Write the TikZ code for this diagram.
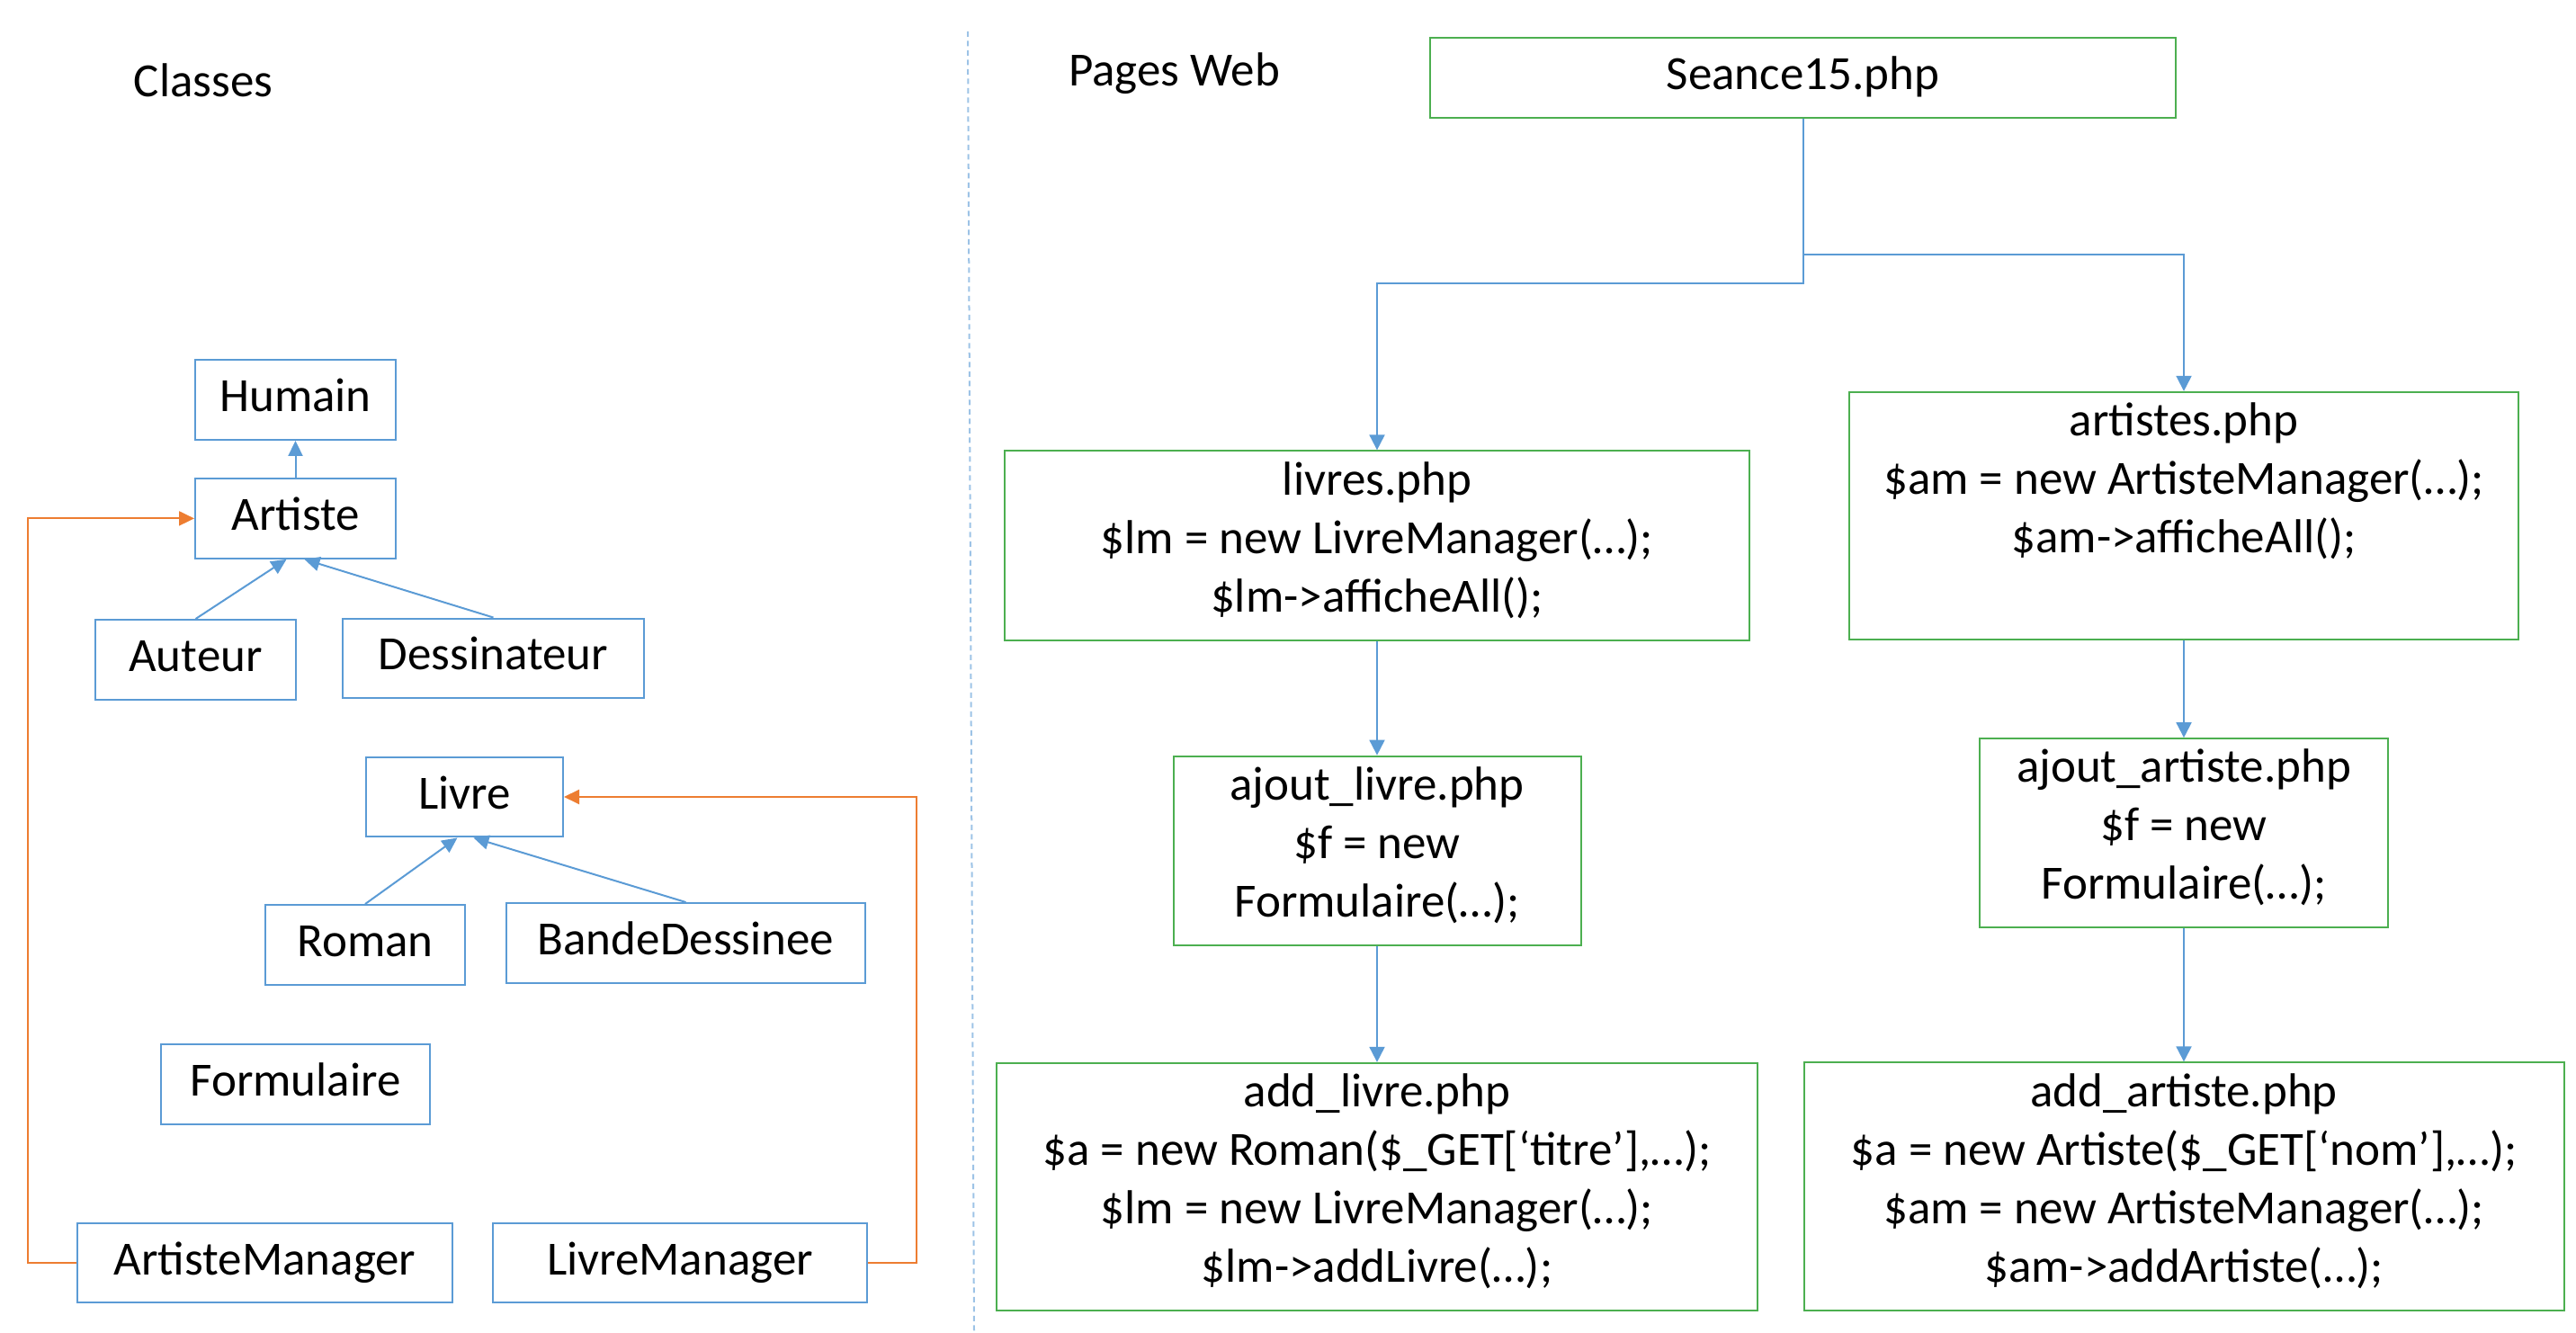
\documentclass[tikz,border=0pt]{standalone}
\usepackage{fontspec}
\setmainfont{Carlito}
\usepackage{tikz}
\usetikzlibrary{positioning}
\usetikzlibrary{arrows.meta}
\definecolor{classblue}{HTML}{5B9BD5}
\definecolor{pagegreen}{HTML}{4CAF50}
\definecolor{linkorange}{HTML}{ED7D31}
\definecolor{dividerblue}{HTML}{9DC3E6}

\begin{document}
\begin{tikzpicture}[
    textfont/.style={font=\fontsize{15.08}{18.5}\selectfont},
    box/.style={rectangle, textfont, align=center, line width=0.57pt, inner xsep=0.1cm, inner ysep=3.4pt, execute at begin node=\strut, execute at end node=\strut},
    classbox/.style={box, draw=classblue},
    pagebox/.style={box, draw=pagegreen},
    inherit/.style={draw=classblue, line width=0.57pt, -{Triangle[length=0.17cm, width=0.16cm]}},
    uses/.style={draw=linkorange, line width=0.57pt, -{Triangle[length=0.17cm, width=0.16cm]}},
    calls/.style={draw=classblue, line width=0.57pt, -{Triangle[length=0.17cm, width=0.17cm]}}
]
    \useasboundingbox (0,0) rectangle (28.64,-14.82);

    \node [textfont, anchor=base] (classes) at (2.26,-1.08) {Classes};
    \node [classbox, minimum width=2.23cm] (humain) at (3.285,-4.445) {Humain};
    \node [classbox, minimum width=2.23cm, below=0.41cm of humain] (artiste) {Artiste};
    \node [classbox, minimum width=2.23cm] (auteur) at (2.175,-7.335) {Auteur};
    \node [classbox, minimum width=3.35cm] (dessinateur) at (5.485,-7.32) {Dessinateur};
    \node [classbox, minimum width=2.19cm] (livre) at (5.165,-8.86) {Livre};
    \node [classbox, minimum width=2.22cm] (roman) at (4.06,-10.505) {Roman};
    \node [classbox, minimum width=3.99cm] (bandedessinee) at (7.625,-10.485) {BandeDessinee};
    \node [classbox, minimum width=2.99cm] (formulaire) at (3.285,-12.055) {Formulaire};
    \node [classbox, minimum width=4.17cm] (artistemanager) at (2.945,-14.04) {ArtisteManager};
    \node [classbox, minimum width=4.16cm, right=0.43cm of artistemanager] (livremanager) {LivreManager};

    \coordinate (divtop) at (10.76,-0.35);
    \coordinate (divbottom) at (10.83,-14.82);
    \draw [dividerblue, line width=0.57pt, dash pattern=on 0.06cm off 0.045cm] (divtop) -- (divbottom);

    \node [textfont, anchor=base] (pagesweb) at (13.055,-0.96) {Pages Web};
    \node [pagebox, minimum width=8.29cm] (seance) at (20.045,-0.865) {Seance15.php};
    \node [pagebox, minimum width=8.28cm] (livres) at (15.31,-6.065) {livres.php\\\$lm = new LivreManager(…);\\\$lm->afficheAll();};
    \node [pagebox, minimum width=7.44cm] (artistes) at (24.28,-5.735) {artistes.php\\\$am = new ArtisteManager(…);\\\$am->afficheAll();\\};
    \node [pagebox, minimum width=4.53cm, below=1.27cm of livres] (ajoutlivre) {ajout\_livre.php\\\$f = new\\Formulaire(…);};
    \node [pagebox, minimum width=4.54cm, below=1.08cm of artistes] (ajoutartiste) {ajout\_artiste.php\\\$f = new\\Formulaire(…);};
    \node [pagebox, minimum width=8.46cm, below=1.29cm of ajoutlivre] (addlivre) {add\_livre.php\\\$a = new Roman(\$\_GET[‘titre’],…);\\\$lm = new LivreManager(…);\\\$lm->addLivre(…);};
    \node [pagebox, minimum width=8.45cm, below=1.48cm of ajoutartiste] (addartiste) {add\_artiste.php\\\$a = new Artiste(\$\_GET[‘nom’],…);\\\$am = new ArtisteManager(…);\\\$am->addArtiste(…);};

    \draw [inherit] (artiste) -- (humain);
    \draw [inherit] (auteur.north) -- ([xshift=-0.1cm]artiste.south);
    \draw [inherit] (dessinateur.north) -- ([xshift=0.1cm]artiste.south);
    \draw [inherit] (roman.north) -- ([xshift=-0.08cm]livre.south);
    \draw [inherit] (bandedessinee.north) -- ([xshift=0.1cm]livre.south);
    \draw [uses] (artistemanager.west) -- ++(-0.54,0) |- (artiste.west);
    \draw [uses] (livremanager.east) -- ++(0.54,0) |- (livre.east);

    \draw [calls] (seance.south) -- ++(0,-1.83) -| (livres.north);
    \draw [calls] (seance.south) -- ++(0,-1.51) -| (artistes.north);
    \draw [calls] (livres.south) -- (ajoutlivre.north);
    \draw [calls] (ajoutlivre.south) -- (addlivre.north);
    \draw [calls] (artistes.south) -- (ajoutartiste.north);
    \draw [calls] (ajoutartiste.south) -- (addartiste.north);
\end{tikzpicture}
\end{document}
